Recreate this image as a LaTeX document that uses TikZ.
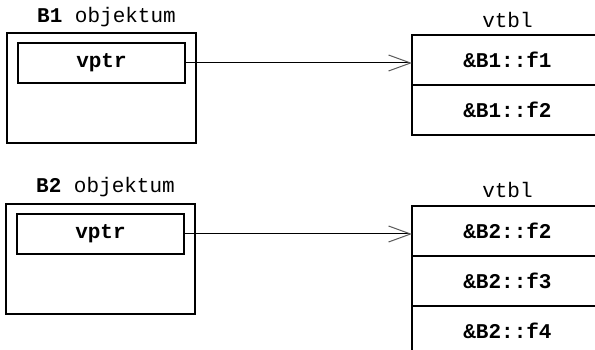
\documentclass[tikz,border=0pt]{standalone}
\usepackage{fontspec}
\setmonofont{Liberation Mono}
\usepackage{tikz}
\usetikzlibrary{positioning}
\usetikzlibrary{arrows.meta}
\newcommand{\codefont}{\fontsize{21}{24}\selectfont\ttfamily}
\tikzstyle{object box}=[draw,line width=1.3pt,outer sep=0pt,minimum width=189pt,minimum height=110pt]
\tikzstyle{ptr box}=[draw,line width=1.3pt,outer sep=0pt,minimum width=167pt,minimum height=40pt,font=\codefont\bfseries]
\tikzstyle{slot}=[draw,line width=1.3pt,outer sep=0pt,minimum width=191pt,minimum height=50pt,font=\codefont\bfseries]
\tikzstyle{title}=[font=\codefont,inner sep=0pt]
\tikzstyle{ptr edge}=[-{Straight Barb[length=22pt,width=16pt,line width=1pt,color=black!65]},line width=1pt]
\newcommand{\slotnode}[3][]{
  \node [slot, #1] (#2) {#3}
}
\newcommand{\objnode}[3]{
  \node [object box, anchor=north west] (#1) at (#2) {};
  \node [ptr box, below right=10pt and 11pt of #1.north west] (#3) {vptr}
}

\begin{document}
\begin{tikzpicture}[x=1pt,y=-1pt]
  \useasboundingbox (0,0) rectangle (595,350);
  \clip (0,0) rectangle (595,350);

  % first object and its table
  \objnode{b1}{7,33}{vptr1};
  \node [title, above=10pt of b1.north, xshift=5pt, anchor=base] (b1title) {{\bfseries B1} objektum};
  \slotnode[anchor=north west, at={(412,35)}]{f11}{\&B1::f1};
  \slotnode[below=0pt of f11]{f12}{\&B1::f2};
  \node [title, above=7pt of f11.north, anchor=base] (vtbl1) {vtbl};
  \draw[ptr edge] (vptr1.east) -- (vptr1.east -| f11.west);

  % second object and its table
  \objnode{b2}{6,204}{vptr2};
  \node [title, above=11pt of b2.north, xshift=5pt, anchor=base] (b2title) {{\bfseries B2} objektum};
  \slotnode[anchor=north west, at={(412,206)}]{f21}{\&B2::f2};
  \slotnode[below=0pt of f21]{f22}{\&B2::f3};
  \slotnode[below=0pt of f22]{f23}{\&B2::f4};
  \node [title, above=8pt of f21.north, anchor=base] (vtbl2) {vtbl};
  \draw[ptr edge] (vptr2.east) -- (vptr2.east -| f21.west);
\end{tikzpicture}
\end{document}
